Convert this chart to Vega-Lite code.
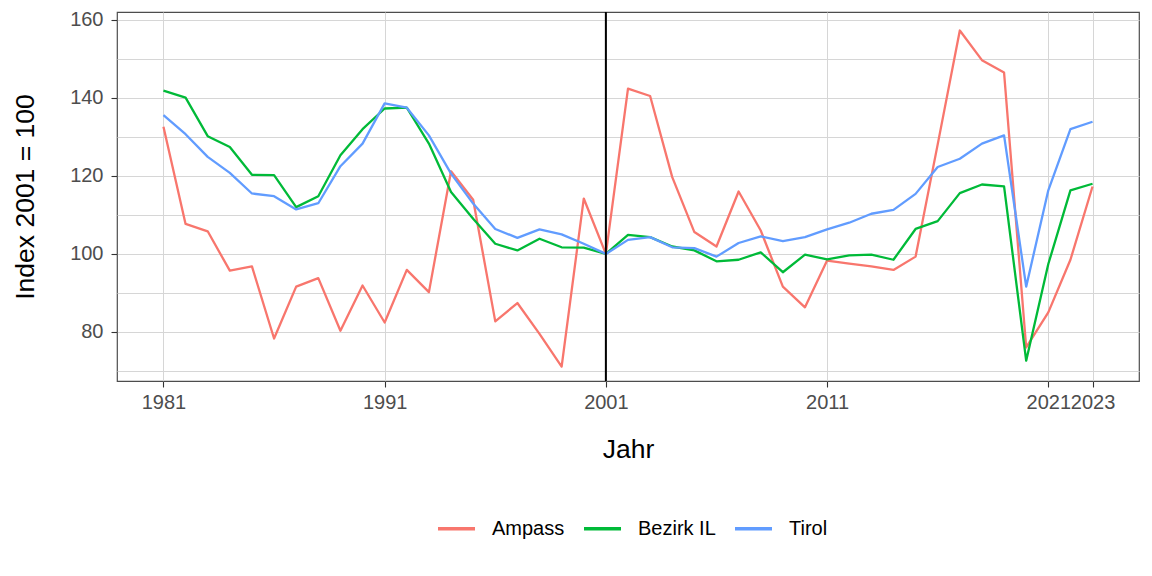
{
  "$schema": "https://vega.github.io/schema/vega-lite/v6.json",
  "width": 1022,
  "height": 369,
  "autosize": "none",
  "padding": {"left": 117, "top": 12, "right": 13, "bottom": 195},
  "background": "white",
  "config": {
    "font": "Liberation Sans",
    "view": {"stroke": "#4d4d4d", "strokeWidth": 1.2}
  },
  "datasets": {
    "series": [
      {"year": 1981, "region": "Ampass", "value": 132.6}, {"year": 1981, "region": "Bezirk IL", "value": 141.9}, {"year": 1981, "region": "Tirol", "value": 135.6},
      {"year": 1982, "region": "Ampass", "value": 107.7}, {"year": 1982, "region": "Bezirk IL", "value": 140.1}, {"year": 1982, "region": "Tirol", "value": 130.7},
      {"year": 1983, "region": "Ampass", "value": 105.8}, {"year": 1983, "region": "Bezirk IL", "value": 130.2}, {"year": 1983, "region": "Tirol", "value": 124.9},
      {"year": 1984, "region": "Ampass", "value": 95.7}, {"year": 1984, "region": "Bezirk IL", "value": 127.4}, {"year": 1984, "region": "Tirol", "value": 120.8},
      {"year": 1985, "region": "Ampass", "value": 96.8}, {"year": 1985, "region": "Bezirk IL", "value": 120.3}, {"year": 1985, "region": "Tirol", "value": 115.5},
      {"year": 1986, "region": "Ampass", "value": 78.3}, {"year": 1986, "region": "Bezirk IL", "value": 120.2}, {"year": 1986, "region": "Tirol", "value": 114.8},
      {"year": 1987, "region": "Ampass", "value": 91.6}, {"year": 1987, "region": "Bezirk IL", "value": 112.0}, {"year": 1987, "region": "Tirol", "value": 111.4},
      {"year": 1988, "region": "Ampass", "value": 93.8}, {"year": 1988, "region": "Bezirk IL", "value": 114.8}, {"year": 1988, "region": "Tirol", "value": 113.0},
      {"year": 1989, "region": "Ampass", "value": 80.3}, {"year": 1989, "region": "Bezirk IL", "value": 125.3}, {"year": 1989, "region": "Tirol", "value": 122.5},
      {"year": 1990, "region": "Ampass", "value": 91.9}, {"year": 1990, "region": "Bezirk IL", "value": 132.0}, {"year": 1990, "region": "Tirol", "value": 128.3},
      {"year": 1991, "region": "Ampass", "value": 82.4}, {"year": 1991, "region": "Bezirk IL", "value": 137.3}, {"year": 1991, "region": "Tirol", "value": 138.6},
      {"year": 1992, "region": "Ampass", "value": 95.9}, {"year": 1992, "region": "Bezirk IL", "value": 137.5}, {"year": 1992, "region": "Tirol", "value": 137.5},
      {"year": 1993, "region": "Ampass", "value": 90.2}, {"year": 1993, "region": "Bezirk IL", "value": 128.3}, {"year": 1993, "region": "Tirol", "value": 130.4},
      {"year": 1994, "region": "Ampass", "value": 121.2}, {"year": 1994, "region": "Bezirk IL", "value": 115.9}, {"year": 1994, "region": "Tirol", "value": 120.6},
      {"year": 1995, "region": "Ampass", "value": 113.9}, {"year": 1995, "region": "Bezirk IL", "value": 109.0}, {"year": 1995, "region": "Tirol", "value": 112.9},
      {"year": 1996, "region": "Ampass", "value": 82.7}, {"year": 1996, "region": "Bezirk IL", "value": 102.6}, {"year": 1996, "region": "Tirol", "value": 106.4},
      {"year": 1997, "region": "Ampass", "value": 87.4}, {"year": 1997, "region": "Bezirk IL", "value": 100.9}, {"year": 1997, "region": "Tirol", "value": 104.1},
      {"year": 1998, "region": "Ampass", "value": 79.5}, {"year": 1998, "region": "Bezirk IL", "value": 103.9}, {"year": 1998, "region": "Tirol", "value": 106.3},
      {"year": 1999, "region": "Ampass", "value": 71.1}, {"year": 1999, "region": "Bezirk IL", "value": 101.7}, {"year": 1999, "region": "Tirol", "value": 105.0},
      {"year": 2000, "region": "Ampass", "value": 114.2}, {"year": 2000, "region": "Bezirk IL", "value": 101.6}, {"year": 2000, "region": "Tirol", "value": 102.6},
      {"year": 2001, "region": "Ampass", "value": 100.0}, {"year": 2001, "region": "Bezirk IL", "value": 100.0}, {"year": 2001, "region": "Tirol", "value": 100.0},
      {"year": 2002, "region": "Ampass", "value": 142.4}, {"year": 2002, "region": "Bezirk IL", "value": 104.9}, {"year": 2002, "region": "Tirol", "value": 103.6},
      {"year": 2003, "region": "Ampass", "value": 140.5}, {"year": 2003, "region": "Bezirk IL", "value": 104.3}, {"year": 2003, "region": "Tirol", "value": 104.3},
      {"year": 2004, "region": "Ampass", "value": 119.7}, {"year": 2004, "region": "Bezirk IL", "value": 101.9}, {"year": 2004, "region": "Tirol", "value": 101.7},
      {"year": 2005, "region": "Ampass", "value": 105.6}, {"year": 2005, "region": "Bezirk IL", "value": 100.9}, {"year": 2005, "region": "Tirol", "value": 101.5},
      {"year": 2006, "region": "Ampass", "value": 101.9}, {"year": 2006, "region": "Bezirk IL", "value": 98.1}, {"year": 2006, "region": "Tirol", "value": 99.3},
      {"year": 2007, "region": "Ampass", "value": 116.0}, {"year": 2007, "region": "Bezirk IL", "value": 98.5}, {"year": 2007, "region": "Tirol", "value": 102.8},
      {"year": 2008, "region": "Ampass", "value": 106.0}, {"year": 2008, "region": "Bezirk IL", "value": 100.4}, {"year": 2008, "region": "Tirol", "value": 104.5},
      {"year": 2009, "region": "Ampass", "value": 91.6}, {"year": 2009, "region": "Bezirk IL", "value": 95.3}, {"year": 2009, "region": "Tirol", "value": 103.3},
      {"year": 2010, "region": "Ampass", "value": 86.3}, {"year": 2010, "region": "Bezirk IL", "value": 99.8}, {"year": 2010, "region": "Tirol", "value": 104.3},
      {"year": 2011, "region": "Ampass", "value": 98.3}, {"year": 2011, "region": "Bezirk IL", "value": 98.6}, {"year": 2011, "region": "Tirol", "value": 106.3},
      {"year": 2012, "region": "Ampass", "value": 97.5}, {"year": 2012, "region": "Bezirk IL", "value": 99.6}, {"year": 2012, "region": "Tirol", "value": 108.0},
      {"year": 2013, "region": "Ampass", "value": 96.8}, {"year": 2013, "region": "Bezirk IL", "value": 99.8}, {"year": 2013, "region": "Tirol", "value": 110.3},
      {"year": 2014, "region": "Ampass", "value": 95.9}, {"year": 2014, "region": "Bezirk IL", "value": 98.5}, {"year": 2014, "region": "Tirol", "value": 111.3},
      {"year": 2015, "region": "Ampass", "value": 99.3}, {"year": 2015, "region": "Bezirk IL", "value": 106.4}, {"year": 2015, "region": "Tirol", "value": 115.4},
      {"year": 2016, "region": "Ampass", "value": 128.1}, {"year": 2016, "region": "Bezirk IL", "value": 108.4}, {"year": 2016, "region": "Tirol", "value": 122.3},
      {"year": 2017, "region": "Ampass", "value": 157.3}, {"year": 2017, "region": "Bezirk IL", "value": 115.6}, {"year": 2017, "region": "Tirol", "value": 124.4},
      {"year": 2018, "region": "Ampass", "value": 149.7}, {"year": 2018, "region": "Bezirk IL", "value": 117.8}, {"year": 2018, "region": "Tirol", "value": 128.3},
      {"year": 2019, "region": "Ampass", "value": 146.5}, {"year": 2019, "region": "Bezirk IL", "value": 117.3}, {"year": 2019, "region": "Tirol", "value": 130.4},
      {"year": 2020, "region": "Ampass", "value": 76.0}, {"year": 2020, "region": "Bezirk IL", "value": 72.6}, {"year": 2020, "region": "Tirol", "value": 91.6},
      {"year": 2021, "region": "Ampass", "value": 85.0}, {"year": 2021, "region": "Bezirk IL", "value": 97.4}, {"year": 2021, "region": "Tirol", "value": 116.3},
      {"year": 2022, "region": "Ampass", "value": 98.5}, {"year": 2022, "region": "Bezirk IL", "value": 116.3}, {"year": 2022, "region": "Tirol", "value": 132.0},
      {"year": 2023, "region": "Ampass", "value": 117.3}, {"year": 2023, "region": "Bezirk IL", "value": 118.0}, {"year": 2023, "region": "Tirol", "value": 133.9}
    ],
    "marker": [{"year": 2001}]
  },
  "layer": [
    {
      "data": {"name": "series"},
      "mark": {"type": "line", "strokeWidth": 2.3, "strokeJoin": "round"},
      "encoding": {
        "x": {
          "field": "year", "type": "quantitative",
          "scale": {"domain": [1978.9, 2025.1], "nice": false, "zero": false},
          "axis": {
            "title": "Jahr",
            "values": [1981, 1991, 2001, 2011, 2021, 2023],
            "format": "d",
            "labelOverlap": false,
            "labelBound": false,
            "domain": false,
            "grid": true, "gridColor": "#d6d6d6", "gridWidth": 1,
            "tickColor": "#333333", "tickSize": 6, "tickWidth": 1.1,
            "labelFont": "Liberation Sans", "labelFontSize": 20, "labelColor": "#4d4d4d", "labelPadding": 5,
            "titleFont": "Liberation Sans", "titleFontSize": 26.5, "titleFontWeight": "normal", "titleColor": "#000000", "titlePadding": 24
          }
        },
        "y": {
          "field": "value", "type": "quantitative",
          "scale": {"domain": [67.4, 162.05], "nice": false, "zero": false},
          "axis": {
            "title": "Index 2001 = 100",
            "values": [70, 80, 90, 100, 110, 120, 130, 140, 150, 160],
            "labelExpr": "datum.value % 20 === 0 ? datum.label : ''",
            "labelOverlap": false,
            "domain": false,
            "grid": true, "gridColor": "#d6d6d6", "gridWidth": 1,
            "tickColor": "#333333", "tickSize": 6, "tickWidth": 1.1,
            "tickOpacity": {"condition": {"test": "datum.value % 20 !== 0", "value": 0}, "value": 1},
            "labelFont": "Liberation Sans", "labelFontSize": 20, "labelColor": "#4d4d4d", "labelPadding": 8,
            "titleFont": "Liberation Sans", "titleFontSize": 26.5, "titleFontWeight": "normal", "titleColor": "#000000", "titlePadding": 30
          }
        },
        "color": {
          "field": "region", "type": "nominal",
          "scale": {"domain": ["Ampass", "Bezirk IL", "Tirol"], "range": ["#F8766D", "#00BA38", "#619CFF"]},
          "legend": {
            "title": null,
            "orient": "none",
            "direction": "horizontal",
            "legendX": 319,
            "legendY": 496,
            "symbolType": "stroke",
            "symbolSize": 1369,
            "symbolStrokeWidth": 3.5,
            "labelFont": "Liberation Sans",
            "labelFontSize": 20,
            "labelColor": "#000000",
            "labelOffset": 15,
            "columnPadding": 12
          }
        }
      }
    },
    {
      "data": {"name": "marker"},
      "mark": {"type": "rule", "color": "#000000", "strokeWidth": 2},
      "encoding": {"x": {"field": "year", "type": "quantitative"}}
    }
  ]
}
